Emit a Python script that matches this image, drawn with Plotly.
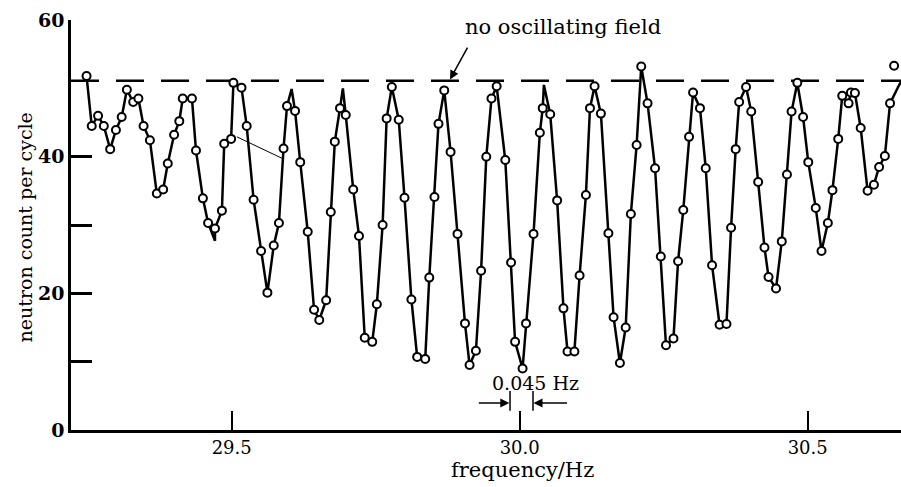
import plotly.graph_objects as go

# measured data points: frequency (Hz) and neutron count per cycle
freq = [29.248, 29.257, 29.268, 29.278, 29.289, 29.299, 29.309, 29.318, 29.329, 29.338,
        29.347, 29.358, 29.370, 29.381, 29.389, 29.400, 29.409, 29.415, 29.431, 29.438,
        29.450, 29.459, 29.471, 29.483, 29.487, 29.499, 29.503, 29.517, 29.526, 29.538,
        29.551, 29.562, 29.573, 29.582, 29.590, 29.596, 29.610, 29.619, 29.632, 29.643,
        29.652, 29.664, 29.672, 29.679, 29.688, 29.698, 29.711, 29.721, 29.731, 29.744,
        29.752, 29.762, 29.769, 29.778, 29.790, 29.800, 29.812, 29.822, 29.836, 29.843,
        29.852, 29.859, 29.869, 29.880, 29.892, 29.905, 29.913, 29.924, 29.933, 29.942,
        29.951, 29.960, 29.975, 29.985, 29.992, 30.005, 30.011, 30.024, 30.035, 30.040,
        30.053, 30.065, 30.076, 30.083, 30.095, 30.104, 30.115, 30.122, 30.130, 30.141,
        30.154, 30.163, 30.174, 30.184, 30.193, 30.203, 30.211, 30.222, 30.235, 30.245,
        30.254, 30.267, 30.275, 30.284, 30.294, 30.301, 30.313, 30.323, 30.334, 30.347,
        30.359, 30.367, 30.375, 30.381, 30.393, 30.402, 30.414, 30.425, 30.432, 30.445,
        30.455, 30.464, 30.472, 30.482, 30.492, 30.501, 30.514, 30.524, 30.535, 30.543,
        30.553, 30.560, 30.571, 30.575, 30.582, 30.592, 30.604, 30.615, 30.624, 30.634,
        30.643, 30.650]
count = [51.8, 44.5, 46.0, 44.5, 41.1, 43.9, 45.8, 49.8, 48.0, 48.5,
         44.5, 42.4, 34.6, 35.2, 39.0, 43.2, 45.2, 48.5, 48.5, 40.9,
         33.9, 30.3, 29.5, 32.1, 41.9, 42.6, 50.8, 50.1, 44.5, 33.7,
         26.2, 20.1, 27.0, 30.3, 41.2, 47.4, 46.7, 39.2, 29.0, 17.6,
         16.1, 19.0, 31.9, 42.2, 47.1, 46.1, 35.2, 28.4, 13.5, 12.9,
         18.4, 30.0, 45.6, 50.2, 45.4, 34.0, 19.1, 10.7, 10.4, 22.3,
         34.1, 44.8, 49.7, 40.7, 28.7, 15.6, 9.5, 11.6, 23.3, 40.0,
         48.5, 50.3, 39.5, 24.5, 12.9, 9.0, 15.6, 28.7, 43.5, 47.1,
         46.2, 33.6, 17.8, 11.5, 11.5, 22.6, 34.4, 47.1, 50.3, 46.3,
         28.8, 16.5, 9.8, 15.0, 31.6, 41.7, 53.2, 47.8, 38.3, 25.4,
         12.4, 13.4, 24.7, 32.2, 42.9, 49.4, 47.1, 38.3, 24.1, 15.4,
         15.5, 29.6, 41.1, 48.0, 50.2, 46.6, 36.3, 26.7, 22.4, 20.7,
         27.6, 37.4, 46.6, 50.8, 45.8, 39.2, 32.5, 26.2, 30.3, 35.1,
         42.6, 48.9, 47.8, 49.4, 49.3, 44.2, 35.0, 35.9, 38.5, 40.1,
         47.8, 53.3]

# drawn curve: passes the points (last isolated point excluded) plus its own tips
curve_tip_freq = [29.471, 29.604, 29.693, 30.042, 30.657, 30.662]
curve_tip_count = [27.7, 49.9, 50.0, 50.5, 50.2, 51.0]

no_field_level = 51.1
x_range = [29.221, 30.662]
y_range = [0, 60]
x_ticks = [29.5, 30.0, 30.5]
x_ticklabels = ["29.5", "30.0", "30.5"]
y_ticks = [0, 10, 20, 30, 40, 60]
y_ticklabels = ["0", "", "20", "", "40", "60"]

curve = sorted(list(zip(freq[:-1], count[:-1])) + list(zip(curve_tip_freq, curve_tip_count)))
curve_freq = [c[0] for c in curve]
curve_count = [c[1] for c in curve]

FONT = "DejaVu Serif"

fig = go.Figure()
fig.add_trace(go.Scatter(x=x_range, y=[no_field_level, no_field_level], mode="lines",
                         line=dict(color="black", width=2.5, dash="28px,17px"),
                         hoverinfo="skip", showlegend=False))
fig.add_trace(go.Scatter(x=curve_freq, y=curve_count, mode="lines",
                         line=dict(color="black", width=2.5),
                         showlegend=False, hoverinfo="skip"))
fig.add_trace(go.Scatter(x=freq, y=count, mode="markers",
                         marker=dict(symbol="circle", size=8, color="white",
                                     line=dict(color="black", width=2)),
                         cliponaxis=False, showlegend=False))

fig.update_layout(
    width=901, height=487,
    margin=dict(l=71, r=0, t=20, b=57),
    paper_bgcolor="white", plot_bgcolor="white",
    font=dict(family=FONT, color="black", size=18),
    xaxis=dict(range=x_range, showgrid=False, zeroline=False, showline=True,
               linecolor="black", linewidth=2.5, ticks="inside", ticklen=19,
               tickwidth=1.8, tickcolor="black", tickvals=x_ticks,
               ticktext=x_ticklabels, tickfont=dict(family=FONT, size=18)),
    yaxis=dict(range=y_range, showgrid=False, zeroline=False, showline=True,
               linecolor="black", linewidth=2.5, ticks="inside", ticklen=21,
               tickwidth=2.5, tickcolor="black", tickvals=y_ticks,
               ticktext=y_ticklabels,
               tickfont=dict(family=FONT, size=19, weight="bold")),
    annotations=[
        dict(text="neutron count per cycle", xref="paper", yref="paper",
             x=-0.055, y=0.495, textangle=-90, showarrow=False,
             font=dict(family=FONT, size=19), xanchor="center", yanchor="middle"),
        dict(text="frequency/Hz", xref="paper", yref="paper", x=0.5434, y=-0.098,
             showarrow=False, font=dict(family=FONT, size=21),
             xanchor="center", yanchor="middle"),
        dict(text="no oscillating field", xref="x", yref="y", x=30.075, y=59.0,
             showarrow=False, font=dict(family=FONT, size=21),
             xanchor="center", yanchor="middle"),
        dict(text=" ", xref="x", yref="y", x=29.879, y=51.3, ax=22, ay=-40,
             showarrow=True, arrowhead=2, arrowsize=1.2, arrowwidth=1.5,
             arrowcolor="black"),
        dict(text="0.045 Hz", xref="x", yref="y", x=30.027, y=6.9,
             showarrow=False, font=dict(family=FONT, size=19),
             xanchor="center", yanchor="middle"),
        dict(text=" ", xref="x", yref="y", x=29.982, y=3.95, ax=-35, ay=0,
             showarrow=True, arrowhead=2, arrowsize=1.2, arrowwidth=1.5,
             arrowcolor="black"),
        dict(text=" ", xref="x", yref="y", x=30.024, y=3.95, ax=38, ay=0,
             showarrow=True, arrowhead=2, arrowsize=1.2, arrowwidth=1.5,
             arrowcolor="black"),
    ],
    shapes=[
        dict(type="line", xref="x", yref="y", x0=29.9832, x1=29.9832, y0=2.8, y1=5.7,
             line=dict(color="black", width=1.5)),
        dict(type="line", xref="x", yref="y", x0=30.0231, x1=30.0231, y0=2.8, y1=5.7,
             line=dict(color="black", width=1.5)),
        dict(type="line", xref="x", yref="y", x0=29.509, x1=29.589, y0=42.9, y1=39.7,
             line=dict(color="black", width=1)),
    ],
)

fig.write_html("out.html")
